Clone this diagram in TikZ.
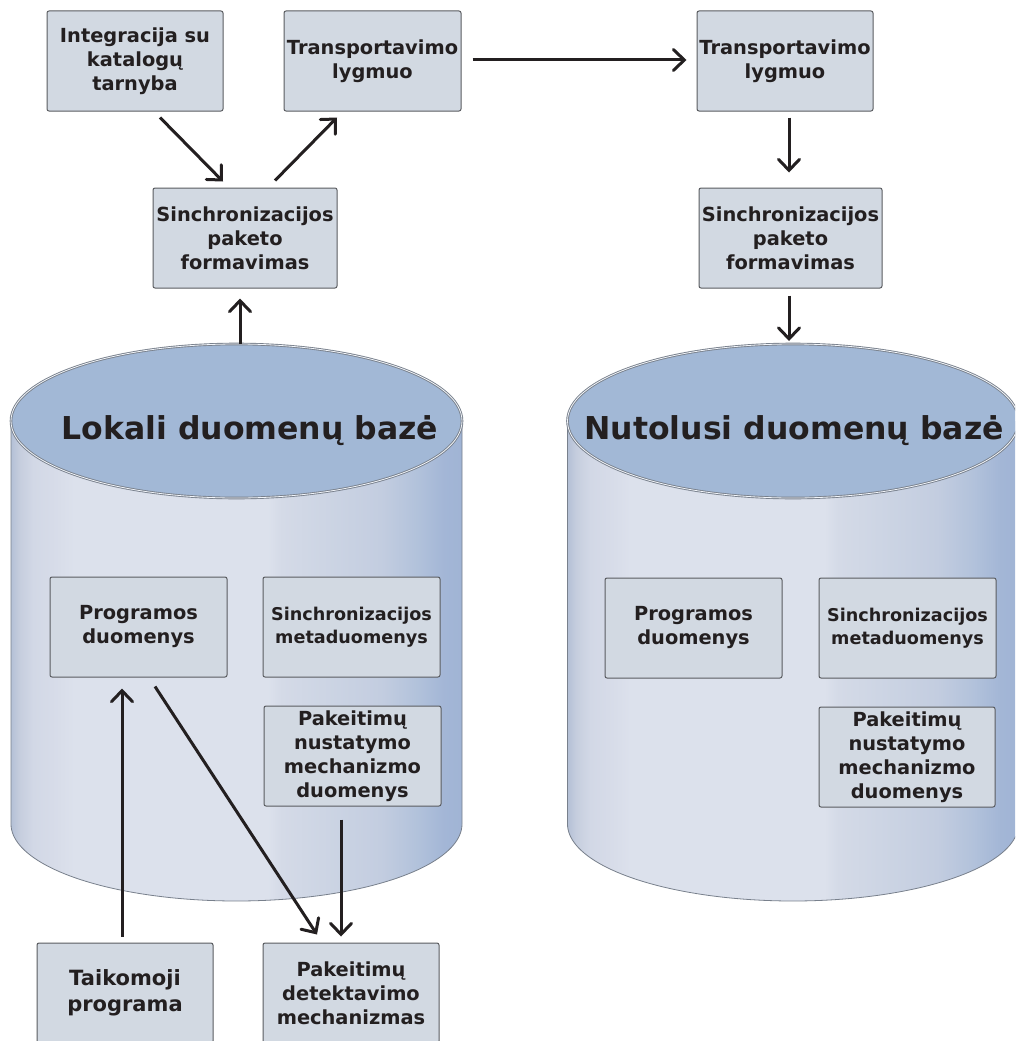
\documentclass[tikz,border=0pt]{standalone}
\usepackage{fontspec}
\setmainfont{DejaVu Sans}
\usetikzlibrary{arrows.meta,calc}

\definecolor{ink}{RGB}{35,31,32}
\definecolor{boxfill}{RGB}{210,217,226}
\definecolor{boxline}{RGB}{90,92,96}
\definecolor{topfill}{RGB}{162,184,214}
\definecolor{rimline}{RGB}{120,128,140}
\definecolor{cA}{RGB}{180,192,214}
\definecolor{cB}{RGB}{198,206,222}
\definecolor{cC}{RGB}{210,216,230}
\definecolor{cD}{RGB}{214,219,232}
\definecolor{cE}{RGB}{220,225,236}
\definecolor{cF}{RGB}{212,218,231}
\definecolor{cG}{RGB}{205,213,228}
\definecolor{cH}{RGB}{195,205,224}
\definecolor{cI}{RGB}{178,194,219}
\definecolor{cJ}{RGB}{163,182,214}
\definecolor{cK}{RGB}{160,180,213}

% vertical bands of the cylinder wall
\pgfdeclarehorizontalshading{cylbody}{100bp}{%
  color(0bp)=(cA); color(25bp)=(cA); color(26bp)=(cB); color(27.5bp)=(cC);
  color(29.5bp)=(cD); color(32bp)=(cE); color(53.5bp)=(cE); color(55bp)=(cF);
  color(59.5bp)=(cG); color(66bp)=(cH); color(70bp)=(cI); color(73bp)=(cJ);
  color(75bp)=(cK); color(100bp)=(cK)}

% database cylinder: centre x, top-ellipse centre y, bottom-ellipse centre y
\newcommand\dbcylinder[3]{%
  \shade[shading=cylbody] ({#1-225.5},#2) -- ({#1-225.5},#3)
    -- plot[domain=180:360, samples=90] ({#1+225.5*cos(\x)},{#3-77*sin(\x)})
    -- ({#1+225.5},#2) -- cycle;
  \draw[rimline, line width=0.8pt] ({#1-225.5},#2) -- ({#1-225.5},#3)
    -- plot[domain=180:360, samples=90] ({#1+225.5*cos(\x)},{#3-77*sin(\x)})
    -- ({#1+225.5},#2);
  \draw[rimline, line width=0.9pt, fill=topfill, double=white!85!topfill, double distance=0.8pt]
    (#1,#2) ellipse [x radius=225.5, y radius=77];
}

\tikzset{
  box/.style={draw=boxline, fill=boxfill, line width=1pt, rounded corners=2pt,
    minimum width=177pt, minimum height=100pt, inner sep=0pt, align=center,
    text=ink, font=\bfseries\fontsize{19.4}{24}\selectfont},
  metabox/.style={box, font=\bfseries\fontsize{17.6}{23.3}\selectfont},
  bigbox/.style={box, font=\bfseries\fontsize{21}{26}\selectfont},
  title/.style={anchor=base, inner sep=0pt, text=ink,
    font=\bfseries\fontsize{31.5}{36}\selectfont},
  arr/.style={draw=ink, line width=3pt,
    -{Straight Barb[length=11pt, width=21pt, line cap=round]}},
}

\begin{document}
\begin{tikzpicture}[x=1pt, y=-1pt]
  \useasboundingbox (0,0) rectangle (1015,1041);
  \clip (0,0) rectangle (1015,1041);
  \fill[white] (0,0) rectangle (1015,1041);

  % the two databases
  \dbcylinder{236.5}{421}{824}
  \dbcylinder{793}{421}{824}
  \coordinate (cylLtop) at (240,344);
  \coordinate (cylRtop) at (789,344);
  \node[title] (titleL) at (250,439) {Lokali duomenų bazė};
  \node[title] (titleR) at (794,439) {Nutolusi duomenų bazė};

  % upper chain, local side
  \node[box, minimum width=176pt] (integ) at (135,61) {Integracija su\\katalogų\\tarnyba};
  \node[box] (transL) at (372.5,61) {Transportavimo\\lygmuo};
  \node[box, minimum width=184pt] (syncL) at (245,238) {Sinchronizacijos\\paketo\\formavimas};

  % upper chain, remote side
  \node[box, minimum width=176pt] (transR) at (785,61) {Transportavimo\\lygmuo};
  \node[box, minimum width=183pt] (syncR) at (790.5,238) {Sinchronizacijos\\paketo\\formavimas};

  % contents of the local database
  \node[box] (progL) at (138.5,627) {Programos\\duomenys};
  \node[metabox] (metaL) at (351.5,627) {Sinchronizacijos\\metaduomenys};
  \node[box] (nustL) at (352.5,756) {Pakeitimų\\nustatymo\\mechanizmo\\duomenys};

  % contents of the remote database
  \node[box] (progR) at (693.5,628) {Programos\\duomenys};
  \node[metabox] (metaR) at (907.5,628) {Sinchronizacijos\\metaduomenys};
  \node[box, minimum width=176pt] (nustR) at (907,757) {Pakeitimų\\nustatymo\\mechanizmo\\duomenys};

  % application and change detection
  \node[bigbox, minimum width=176pt] (taik) at (125,993) {Taikomoji\\programa};
  \node[box, minimum width=176pt] (detek) at (351,993) {Pakeitimų\\detektavimo\\mechanizmas};

  % connectors
  \draw[arr] ([xshift=25pt, yshift=-6pt]integ.south) -- ([xshift=-22pt, yshift=6pt]syncL.north);
  \draw[arr] ([xshift=30pt, yshift=7pt]syncL.north) -- ([xshift=-35.5pt, yshift=-6pt]transL.south);
  \draw[arr] (cylLtop) -- ([xshift=-5pt, yshift=-10pt]syncL.south);
  \draw[arr] ([xshift=11pt, yshift=1pt]transL.east) -- ([xshift=-10pt, yshift=1pt]transR.west);
  \draw[arr] ([xshift=4pt, yshift=-6pt]transR.south) -- ([xshift=-1.5pt, yshift=15pt]syncR.north);
  \draw[arr] ([xshift=-1.5pt, yshift=-7pt]syncR.south) -- ([yshift=3pt]cylRtop);
  \draw[arr] ([xshift=-3pt, yshift=6pt]taik.north) -- ([xshift=-16.5pt, yshift=-11pt]progL.south);
  \draw[arr] ([xshift=16.5pt, yshift=-9pt]progL.south) -- ([xshift=-34pt, yshift=8pt]detek.north);
  \draw[arr] ([xshift=-11.5pt, yshift=-13pt]nustL.south) -- ([xshift=-10pt, yshift=6pt]detek.north);
\end{tikzpicture}
\end{document}
